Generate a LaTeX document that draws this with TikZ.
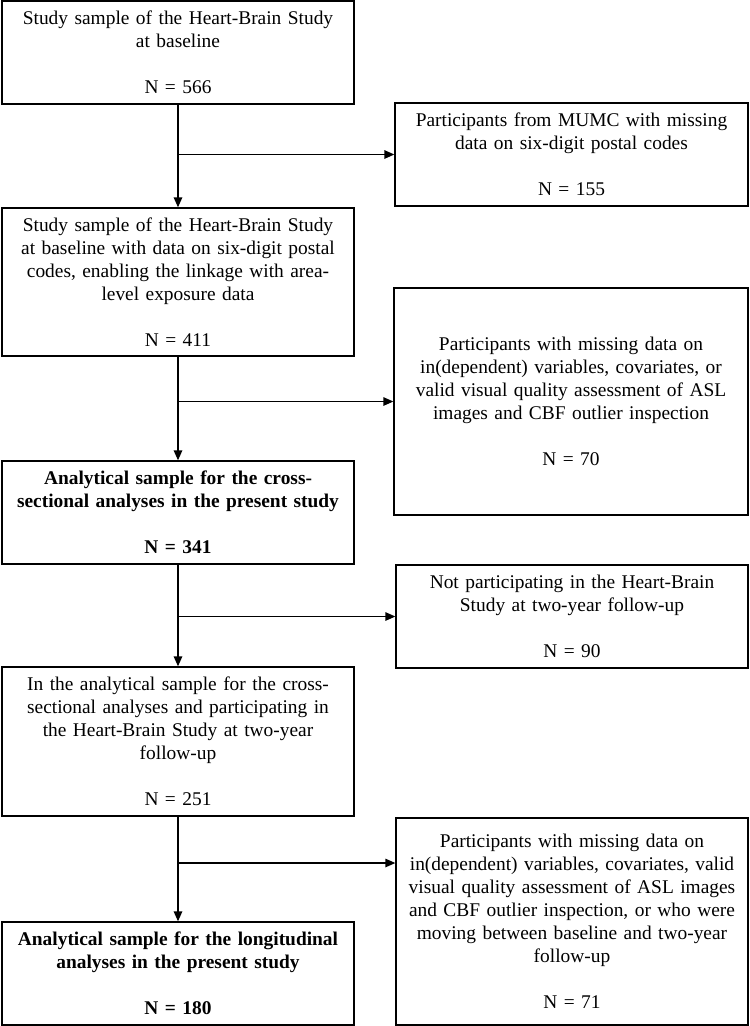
\documentclass[tikz,border=0pt]{standalone}
\usepackage{fontspec}
\setmainfont{Liberation Serif}
\usetikzlibrary{arrows.meta}
\begin{document}
\begin{tikzpicture}[x=1pt,y=-1pt,
  box/.style={draw,line width=1.3pt,rectangle,align=center,text width=340pt,inner xsep=2pt,inner ysep=0pt,
    font=\fontsize{19.4}{23}\selectfont},
  arr/.style={line width=1.3pt,-{Triangle[length=10pt,width=8.5pt]}}]
\useasboundingbox (0,0) rectangle (750,1026);
% left column
\node[box,minimum width=352pt,minimum height=103pt] (b1) at (178,52.5)
  {Study sample of the Heart-Brain Study\\at baseline\\[23pt]N = 566};
\node[box,minimum width=352pt,minimum height=148pt] (b2) at (178,282)
  {Study sample of the Heart-Brain Study\\at baseline with data on six-digit postal\\codes, enabling the linkage with area-\\level exposure data\\[23pt]N = 411};
\node[box,minimum width=352pt,minimum height=103pt] (b3) at (178,512.5)
  {\bfseries Analytical sample for the cross-\\\bfseries sectional analyses in the present study\\[23pt]\bfseries N = 341};
\node[box,minimum width=352pt,minimum height=149pt] (b4) at (178,741.5)
  {In the analytical sample for the cross-\\sectional analyses and participating in\\the Heart-Brain Study at two-year\\follow-up\\[23pt]N = 251};
\node[box,minimum width=352pt,minimum height=103pt] (b5) at (178,973.5)
  {\bfseries Analytical sample for the longitudinal\\\bfseries analyses in the present study\\[23pt]\bfseries N = 180};
% right column
\node[box,minimum width=353pt,minimum height=103pt] (r1) at (571.5,154.5)
  {Participants from MUMC with missing\\data on six-digit postal codes\\[23pt]N = 155};
\node[box,minimum width=354pt,minimum height=227pt] (r2) at (571,401.5)
  {Participants with missing data on\\in(dependent) variables, covariates, or\\valid visual quality assessment of ASL\\images and CBF outlier inspection\\[23pt]N = 70};
\node[box,minimum width=352pt,minimum height=103pt] (r3) at (572,616.5)
  {Not participating in the Heart-Brain\\Study at two-year follow-up\\[23pt]N = 90};
\node[box,minimum width=352pt,minimum height=207pt] (r4) at (572,921.5)
  {Participants with missing data on\\in(dependent) variables, covariates, valid\\visual quality assessment of ASL images\\and CBF outlier inspection, or who were\\moving between baseline and two-year\\follow-up\\[23pt]N = 71};
% connectors
\draw[arr] (b1) -- (b2);
\draw[arr] (b2) -- (b3);
\draw[arr] (b3) -- (b4);
\draw[arr] (b4) -- (b5);
\draw[arr] (r1.west -| b1.south) -- (r1.west);
\draw[arr] (r2.west -| b2.south) -- (r2.west);
\draw[arr] (r3.west -| b3.south) -- (r3.west);
\coordinate (k4) at (178,863);
\draw[arr] (k4) -- (k4 -| r4.west);
\end{tikzpicture}
\end{document}
